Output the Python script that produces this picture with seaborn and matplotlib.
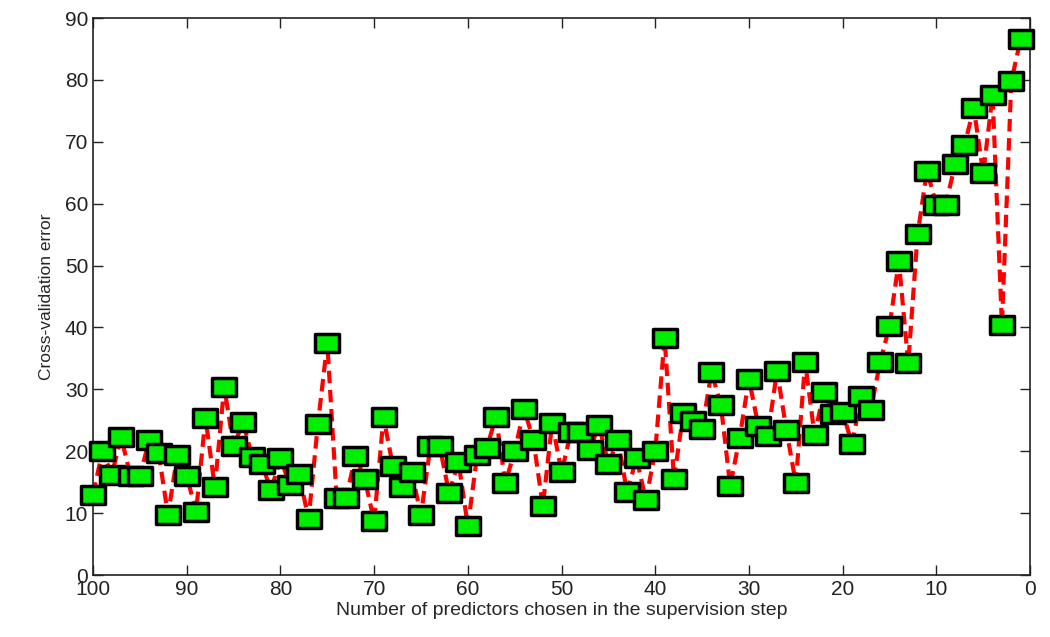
import numpy as np
import matplotlib
matplotlib.use("Agg")
import matplotlib.pyplot as plt
import seaborn as sns
from matplotlib.path import Path

# number of predictors kept in the supervision step (100 down to 1)
n_predictors = list(range(100, 0, -1))

# cross-validation error, one value per predictor count
cv_error = [
    13.0, 20.0, 16.2, 22.3, 16.0, 16.0, 21.8, 19.7, 9.7, 19.4,    # 100..91
    16.0, 10.2, 25.4, 14.2, 30.4, 20.8, 24.7, 19.0, 18.0, 13.7,   # 90..81
    18.9, 14.5, 16.3, 9.0, 24.4, 37.5, 12.4, 12.4, 19.2, 15.5,    # 80..71
    8.7, 25.5, 17.6, 14.2, 16.6, 9.7, 20.8, 20.8, 13.2, 18.3,     # 70..61
    7.9, 19.4, 20.5, 25.5, 14.9, 20.0, 26.8, 21.8, 11.1, 24.6,    # 60..51
    16.6, 23.1, 23.1, 20.2, 24.2, 17.9, 21.8, 13.4, 18.9, 12.1,   # 50..41
    20.0, 38.3, 15.5, 26.2, 24.9, 23.6, 32.8, 27.5, 14.4, 22.1,   # 40..31
    31.7, 24.1, 22.5, 33.0, 23.4, 14.9, 34.4, 22.6, 29.6, 26.0,   # 30..21
    26.3, 21.2, 28.9, 26.7, 34.4, 40.2, 50.7, 34.2, 55.1, 65.3,   # 20..11
    59.8, 59.8, 66.4, 69.5, 75.4, 64.9, 77.5, 40.4, 79.8, 86.6,   # 10..1
]

sns.set_style("white")
plt.rcParams["font.family"] = ["Liberation Sans", "DejaVu Sans"]

fig = plt.figure(figsize=(10.5, 6.37), dpi=100)
ax = fig.add_axes([0.0886, 0.0973, 0.8924, 0.8744])

# the original markers are slightly wider than tall
rect = Path([(-0.65, -0.5), (0.65, -0.5), (0.65, 0.5), (-0.65, 0.5), (-0.65, -0.5)],
            [Path.MOVETO, Path.LINETO, Path.LINETO, Path.LINETO, Path.CLOSEPOLY])

sns.lineplot(x=n_predictors, y=cv_error, ax=ax, sort=False,
             color="#ff0000", linestyle="--", linewidth=3, dashes=False,
             marker=rect, markersize=17, markerfacecolor="#00ee00",
             markeredgecolor="black", markeredgewidth=2.5, clip_on=False)
for ln in ax.get_lines():
    ln.set_linestyle((0, (3, 1.6)))
    ln.set_zorder(5)

ax.set_xlim(100, 0)
ax.set_ylim(0, 90)
ax.set_xticks(range(100, -1, -10))
ax.set_yticks(range(0, 91, 10))

for s in ax.spines.values():
    s.set_color("#222222")
    s.set_linewidth(1.2)
ax.tick_params(direction="in", length=7, width=1, labelsize=15, colors="#222222",
               top=True, right=True, bottom=True, left=True,
               labeltop=False, labelright=False)

ax.set_xlabel("Number of predictors chosen in the supervision step", fontsize=14, labelpad=2)
ax.set_ylabel("Cross-validation error", fontsize=12.5, labelpad=8)

fig.savefig("out.png", dpi=100)
